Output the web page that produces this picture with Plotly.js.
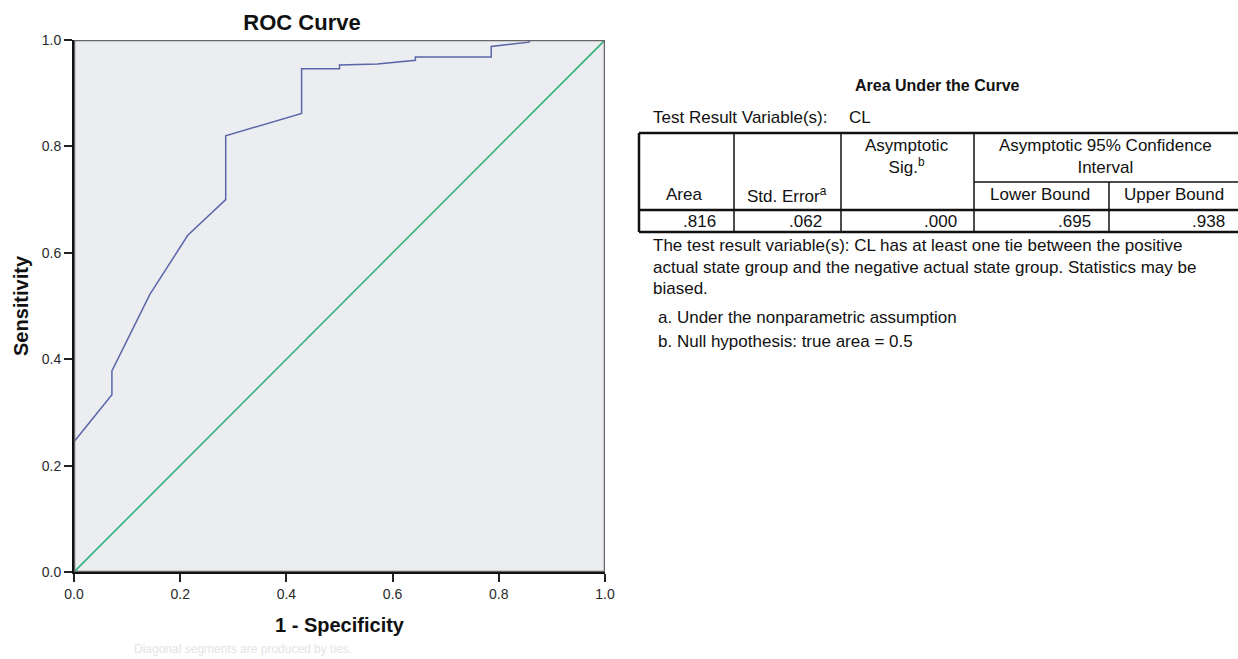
<!DOCTYPE html>
<html>
<head>
<meta charset="utf-8">
<script src="https://cdn.plot.ly/plotly-3.0.1.min.js"></script>
<style>html,body{margin:0;padding:0;background:#fff;}#chart{width:1238px;height:659px;}</style>
</head>
<body>
<div id="chart"></div>
<script>
// ROC curve points (1 - Specificity, Sensitivity)
const fpr = [0, 0, 0.0714, 0.0714, 0.1429, 0.2143, 0.2857, 0.2857, 0.4286, 0.4286, 0.5, 0.5, 0.5714, 0.6429, 0.6429, 0.7857, 0.7857, 0.8571, 0.8571, 1.0];
const tpr = [0, 0.245, 0.333, 0.378, 0.522, 0.633, 0.700, 0.820, 0.862, 0.946, 0.946, 0.953, 0.955, 0.962, 0.968, 0.968, 0.988, 0.996, 1.0, 1.0];
// Reference (diagonal) line
const refX = [0, 1];
const refY = [0, 1];
// Axis ticks
const tickVals = [0, 0.2, 0.4, 0.6, 0.8, 1.0];
const tickLabels = ["0.0", "0.2", "0.4", "0.6", "0.8", "1.0"];
// Table content
const tableTitle = "Area Under the Curve";
const testVarLabel = "Test Result Variable(s):";
const testVarName = "CL";
const colHeaders = ["Area", "Std. Error<sup>a</sup>", "Asymptotic<br>Sig.<sup>b</sup>", "Asymptotic 95% Confidence<br>Interval"];
const subHeaders = ["Lower Bound", "Upper Bound"];
const rowValues = [".816", ".062", ".000", ".695", ".938"];
const noteLines = [
  "The test result variable(s): CL has at least one tie between the positive",
  "actual state group and the negative actual state group. Statistics may be",
  "biased."
];
const footnotes = ["a. Under the nonparametric assumption", "b. Null hypothesis: true area = 0.5"];
const chartNote = "Diagonal segments are produced by ties.";

// pixel -> paper helpers (plot area: x 74..605, y 40..572)
const L = 74, R = 605, T = 40, B = 572;
const W = 1238, H = 659;
const px = v => (v - L) / (R - L);
const py = v => (B - v) / (B - T);

const FONT = "Liberation Sans, Arial, sans-serif";
const shapes = [];
const ann = [];

// plot frame (gray top/right)
shapes.push({type: "rect", xref: "x", yref: "y", x0: 0, y0: 0, x1: 1, y1: 1,
  line: {color: "#666", width: 2.5}, layer: "above"});

// table geometry (pixels)
const tL = 639, tR = 1242, tT = 133, tB = 232;
const colX = [734, 841, 974, 1109];
const subY = 182, headY = 210;
const line = (x0, y0, x1, y1, w) => shapes.push({type: "line", xref: "paper", yref: "paper",
  x0: px(x0), y0: py(y0), x1: px(x1), y1: py(y1), line: {color: "#111", width: w}});
line(tL, tT, tR, tT, 2.5);
line(tL, tB, tR, tB, 2.5);
line(tL, tT, tL, tB, 2.5);
line(tL, headY, tR, headY, 2.5);
line(colX[0], tT, colX[0], tB, 1.5);
line(colX[1], tT, colX[1], tB, 1.5);
line(colX[2], tT, colX[2], tB, 1.5);
line(colX[3], subY, colX[3], tB, 1.5);
line(colX[2], subY, tR, subY, 1.5);

const txt = (s, x, y, anchor, size, bold, color) => ann.push({xref: "paper", yref: "paper",
  x: px(x), y: py(y), text: bold ? "<b>" + s + "</b>" : s, showarrow: false,
  xanchor: anchor, yanchor: "middle", align: anchor === "right" ? "right" : (anchor === "center" ? "center" : "left"),
  font: {family: FONT, size: size, color: color || "#111"}});

const TS = 17;
txt(tableTitle, 937, 86, "center", 16, true);
txt(testVarLabel, 651, 118, "left", TS);
txt(testVarName, 847, 118, "left", TS);
txt(colHeaders[0], 684, 195, "center", TS);
txt(colHeaders[1], 787, 195, "center", TS);
txt(colHeaders[2], 907, 156, "center", TS);
txt(colHeaders[3], 1105, 156, "center", TS);
txt(subHeaders[0], 1040, 194, "center", TS);
txt(subHeaders[1], 1174, 194, "center", TS);
const valRight = [718, 824, 959, 1093, 1227];
rowValues.forEach((v, i) => txt(v, valRight[i], 222, "right", TS));
noteLines.forEach((s, i) => txt(s, 651, 246 + i * 21, "left", TS));
txt(footnotes[0], 656, 317, "left", TS);
txt(footnotes[1], 656, 341, "left", TS);
txt(chartNote, 132, 649, "left", 12, false, "#e4e4e4");

const traces = [
  {x: fpr, y: tpr, type: "scatter", mode: "lines", line: {color: "#5b66a8", width: 1.5}, hoverinfo: "x+y", name: "CL"},
  {x: refX, y: refY, type: "scatter", mode: "lines", line: {color: "#33b37a", width: 1.6}, name: "Reference Line"}
];

const axisCommon = {
  range: [0, 1], tickvals: tickVals, ticktext: tickLabels, ticks: "outside", ticklen: 8, tickwidth: 2,
  tickcolor: "#222", showline: true, linecolor: "#111", linewidth: 2, mirror: false, showgrid: false,
  zeroline: false, tickfont: {family: FONT, size: 14, color: "#2a2a2a"}, fixedrange: true
};

const layout = {
  width: W, height: H,
  margin: {l: L, r: W - R, t: T, b: H - B},
  paper_bgcolor: "#fff", plot_bgcolor: "#ebedf0",
  showlegend: false,
  title: {text: "<b>ROC Curve</b>", x: 302 / W, xanchor: "center", y: 1 - 22 / H, yanchor: "middle",
    font: {family: FONT, size: 22, color: "#111"}},
  xaxis: Object.assign({}, axisCommon, {title: {text: "<b>1 - Specificity</b>", standoff: 17,
    font: {family: FONT, size: 20, color: "#111"}}}),
  yaxis: Object.assign({}, axisCommon, {title: {text: "<b>Sensitivity</b>", standoff: 8,
    font: {family: FONT, size: 20, color: "#111"}}}),
  shapes: shapes, annotations: ann
};

Plotly.newPlot("chart", traces, layout, {displayModeBar: false, staticPlot: true});
</script>
</body>
</html>
